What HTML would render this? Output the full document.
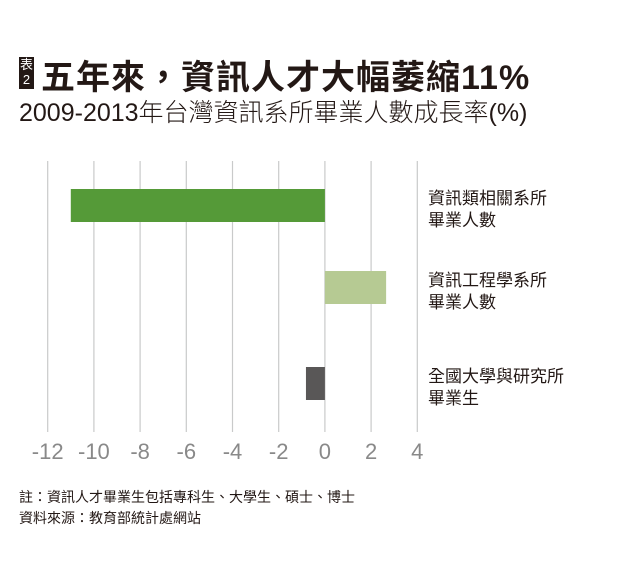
<!DOCTYPE html>
<html><head><meta charset="utf-8"><style>
body{margin:0;width:620px;height:565px;background:#fff;font-family:"Liberation Sans","Noto Sans CJK TC",sans-serif;overflow:hidden;position:relative}
.t{position:absolute;white-space:nowrap}
</style></head><body>
<div class="t" style="left:19px;top:57px;width:15px;height:32px;background:#231815;color:#fff;font-size:13px;line-height:15px;text-align:center">表<br>2</div>
<div class="t" style="left:41px;top:50px;font-size:34px;font-weight:bold;color:#231815;letter-spacing:1px">五年來，資訊人才大幅萎縮11%</div>
<div class="t" style="left:19px;top:93px;font-size:25px;font-weight:300;color:#231815">2009-2013年台灣資訊系所畢業人數成長率(%)</div>
<svg id="chart" width="620" height="565" style="position:absolute;left:0;top:0"></svg>
<div class="t" style="left:19px;top:487px;font-size:14px;line-height:21px;color:#231815">註：資訊人才畢業生包括專科生、大學生、碩士、博士<br>資料來源：教育部統計處網站</div>
<script>
const categories=[["資訊類相關系所","畢業人數"],["資訊工程學系所","畢業人數"],["全國大學與研究所","畢業生"]];
const values=[-11,2.65,-0.82];
const colors=["#559a38","#b6ca93","#595757"];
const ticks=[-12,-10,-8,-6,-4,-2,0,2,4];
const svg=document.getElementById('chart');
const NS='http://www.w3.org/2000/svg';
const x0=47.7,x1=417.3,vmin=-12,vmax=4;
const x=v=>x0+(v-vmin)/(vmax-vmin)*(x1-x0);
const bandTop=[189,271,367];
const barY=i=>bandTop[i], barH=33;
function mk(t,a){const e=document.createElementNS(NS,t);for(const k in a)e.setAttribute(k,a[k]);svg.appendChild(e);return e;}
ticks.forEach(t=>{
 const l=mk('line',{x1:x(t),x2:x(t),y1:161,y2:432,stroke:'#c9caca','stroke-width':1.2});
 
 
 const tx=mk('text',{x:x(t),y:459,'text-anchor':'middle','font-size':22,fill:'#898989','font-family':'Liberation Sans, sans-serif'});
 tx.textContent=(t<0?'-'+Math.abs(t):t);
 
 
});
values.forEach((v,i)=>{
 const r=mk('rect',{x:Math.min(x(0),x(v)),y:barY(i),width:Math.abs(x(v)-x(0)),height:barH,fill:colors[i]});
 
 
 categories[i].forEach((s,j)=>{
  const tx=mk('text',{x:428,y:barY(i)+15+j*22,'font-size':17,fill:'#231815','font-family':'Liberation Sans, Noto Sans CJK TC, sans-serif'});
  tx.textContent=s;
  
  
 });
});
</script>
</body></html>
